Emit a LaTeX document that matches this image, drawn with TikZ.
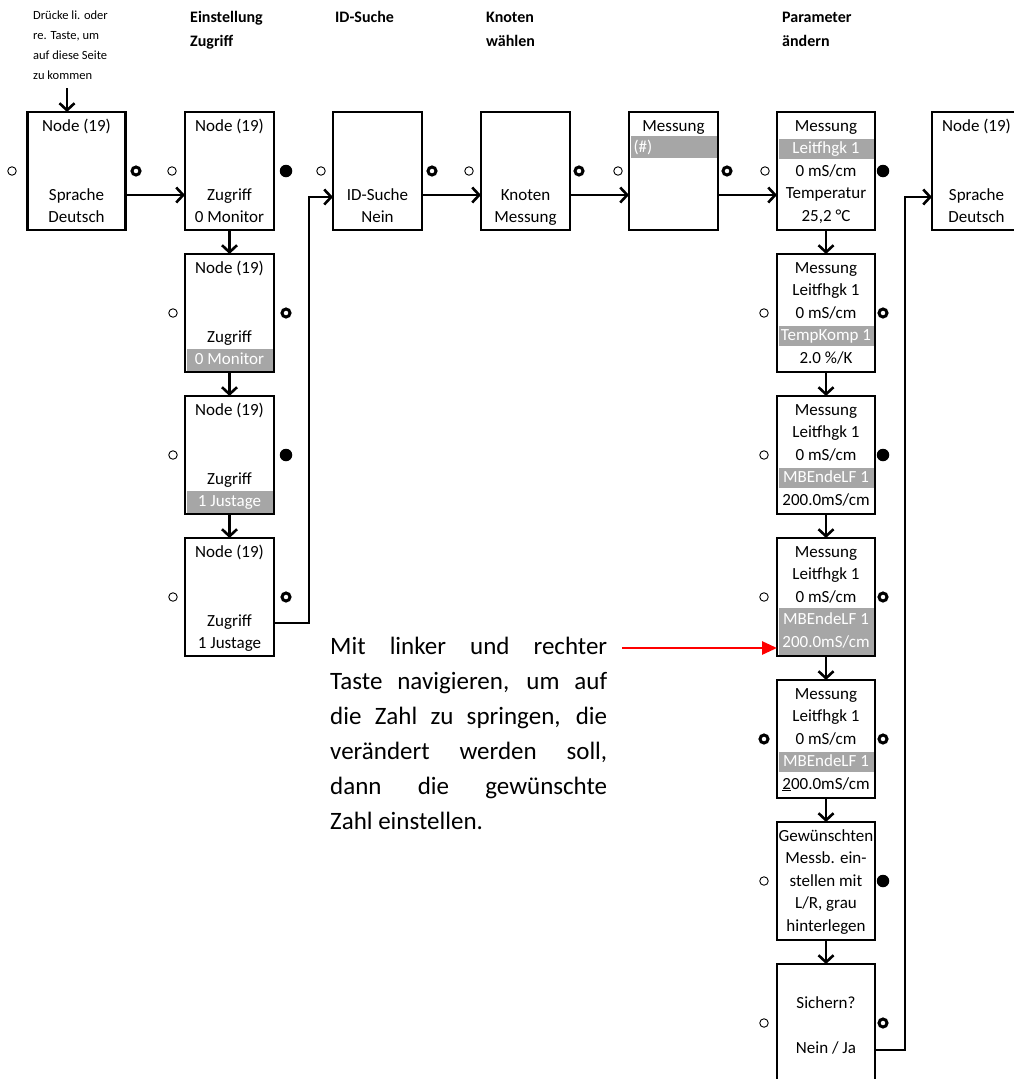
\documentclass[tikz,border=0pt]{standalone}
\usepackage{fontspec}
\setmainfont{Carlito}
\usetikzlibrary{arrows.meta}

\definecolor{bargray}{RGB}{166,166,166}
\newcommand{\jline}[1]{\makebox[277pt][s]{#1}}

\tikzset{
  box/.style={draw, line width=2.7pt, minimum width=89pt, minimum height=118pt, inner sep=0pt, outer sep=0pt},
  wide/.style={box, minimum width=98pt},
  ln/.style={font=\fontsize{17}{22.5}\selectfont, text height=12pt, text depth=2pt, inner sep=0pt},
  bar/.style={ln, fill=bargray, text=white, minimum width=#1, minimum height=20pt},
  bar/.default=95pt,
  head/.style={font=\bfseries\fontsize{16}{24}\selectfont, align=left, inner sep=0pt, anchor=base west},
  arr/.style={line width=2.6pt, -{Straight Barb[length=7pt,width=15pt,line width=2.6pt]}},
  redarr/.style={draw=red, line width=2.8pt, -{Triangle[length=15pt,width=13pt]}},
  free/.style={circle, draw, line width=0.9pt, minimum size=8.5pt, inner sep=0pt},
  ring/.style={circle, draw, line width=3pt, minimum size=8pt, inner sep=0pt},
  dot/.style={circle, fill, minimum size=12.5pt, inner sep=0pt}
}

\begin{document}
\begin{tikzpicture}[x=1pt,y=-1pt]
  \useasboundingbox (0,0) rectangle (1013,1079);

  % headings (placed at the baseline of their last line)
  \node[head, font=\fontsize{12.5}{20}\selectfont] (note) at (33,79) {Drücke li. oder\\re. Taste, um\\auf diese Seite\\zu kommen};
  \node[head] (h1) at (190,46.5) {Einstellung\\Zugriff};
  \node[head] (h2) at (335,22.5) {ID-Suche};
  \node[head] (h3) at (486,46.5) {Knoten\\wählen};
  \node[head] (h4) at (782,46.5) {Parameter\\ändern};

  % top row
  \node[wide] (b1) at (76.5,171) {};
  \node[box]  (b2) at (229.5,171) {};
  \node[box]  (b3) at (377.5,171) {};
  \node[box]  (b4) at (525.5,171) {};
  \node[box]  (b5) at (673.5,171) {};
  \node[wide] (b6) at (826,171) {};
  \node[box]  (b7) at (976.5,171) {};

  \node[ln] (b1a) at (76.5,126) {Node (19)};
  \node[ln] (b1b) at (76.5,195) {Sprache};
  \node[ln] (b1c) at (76.5,217) {Deutsch};
  \node[ln] (b2a) at (229.5,126) {Node (19)};
  \node[ln] (b2b) at (229.5,195) {Zugriff};
  \node[ln] (b2c) at (229.5,217) {0 Monitor};
  \node[ln] (b3a) at (377.5,195) {ID-Suche};
  \node[ln] (b3b) at (377.5,217) {Nein};
  \node[ln] (b4a) at (525.5,195) {Knoten};
  \node[ln] (b4b) at (525.5,217) {Messung};
  \node[ln] (b5a) at (673.5,126) {Messung};
  \node[bar=86pt, minimum height=22pt, text width=80pt, align=left] (b5b) at (673.5,147) {(\#)};
  \node[ln] (b6a) at (826,126) {Messung};
  \node[bar] (b6b) at (826,148.5) {Leitfhgk 1};
  \node[ln] (b6c) at (826,171) {0 mS/cm};
  \node[ln] (b6d) at (826,193.5) {Temperatur};
  \node[ln] (b6e) at (826,216) {25,2 °C};
  \node[ln] (b7a) at (976.5,126) {Node (19)};
  \node[ln] (b7b) at (976.5,195) {Sprache};
  \node[ln] (b7c) at (976.5,217) {Deutsch};

  % Zugriff column
  \node[box] (z1) at (229.5,313) {};
  \node[box] (z2) at (229.5,455) {};
  \node[box] (z3) at (229.5,597) {};

  \node[ln] (z1a) at (229.5,268) {Node (19)};
  \node[ln] (z1b) at (229.5,337) {Zugriff};
  \node[bar=86pt, minimum height=22pt] (z1c) at (229.5,359.5) {0 Monitor};
  \node[ln] (z2a) at (229.5,410) {Node (19)};
  \node[ln] (z2b) at (229.5,479) {Zugriff};
  \node[bar=86pt, minimum height=22pt] (z2c) at (229.5,501.5) {1 Justage};
  \node[ln] (z3a) at (229.5,552) {Node (19)};
  \node[ln] (z3b) at (229.5,621) {Zugriff};
  \node[ln] (z3c) at (229.5,643) {1 Justage};

  % Messung column
  \node[wide] (m1) at (826,313) {};
  \node[wide] (m2) at (826,455) {};
  \node[wide] (m3) at (826,597) {};
  \node[wide] (m4) at (826,739) {};
  \node[wide] (m5) at (826,881) {};
  \node[wide] (m6) at (826,1023) {};

  \node[ln] (m1a) at (826,268) {Messung};
  \node[ln] (m1b) at (826,290.5) {Leitfhgk 1};
  \node[ln] (m1c) at (826,313) {0 mS/cm};
  \node[bar] (m1d) at (826,335.5) {TempKomp 1};
  \node[ln] (m1e) at (826,358) {2.0 \%/K};
  \node[ln] (m2a) at (826,410) {Messung};
  \node[ln] (m2b) at (826,432.5) {Leitfhgk 1};
  \node[ln] (m2c) at (826,455) {0 mS/cm};
  \node[bar] (m2d) at (826,477.5) {MBEndeLF 1};
  \node[ln] (m2e) at (826,500) {200.0mS/cm};
  \node[ln] (m3a) at (826,552) {Messung};
  \node[ln] (m3b) at (826,574.5) {Leitfhgk 1};
  \node[ln] (m3c) at (826,597) {0 mS/cm};
  \node[bar, minimum height=23pt] (m3d) at (826,619.5) {MBEndeLF 1};
  \node[bar, minimum height=24pt] (m3e) at (826,642.5) {200.0mS/cm};
  \node[ln] (m4a) at (826,694) {Messung};
  \node[ln] (m4b) at (826,716.5) {Leitfhgk 1};
  \node[ln] (m4c) at (826,739) {0 mS/cm};
  \node[bar] (m4d) at (826,761.5) {MBEndeLF 1};
  \node[ln] (m4e) at (826,784) {\underline{2}00.0mS/cm};
  \node[ln] (m5a) at (826,836) {Gewünschten};
  \node[ln] (m5b) at (826,858.5) {Messb. ein-};
  \node[ln] (m5c) at (826,881) {stellen mit};
  \node[ln] (m5d) at (826,903.5) {L/R, grau};
  \node[ln] (m5e) at (826,926) {hinterlegen};
  \node[ln] (m6a) at (826,1003) {Sichern?};
  \node[ln] (m6b) at (826,1048) {Nein / Ja};

  % knobs
  \foreach \x/\y [count=\i] in {12/171, 172/171, 321/171, 469/171, 618/171, 765/171,
      173/313, 173/455, 173/597, 764/313, 764/455, 764/597, 764/881, 764/1023}
    \node[free] (f\i) at (\x,\y) {};
  \foreach \x/\y [count=\i] in {136/171, 432/171, 579/171, 727/171, 286/313, 286/597,
      883/313, 883/597, 764/739, 883/739, 883/1023}
    \node[ring] (r\i) at (\x,\y) {};
  \foreach \x/\y [count=\i] in {286/171, 286/455, 883/171, 883/455, 883/881}
    \node[dot] (d\i) at (\x,\y) {};

  % connectors
  \coordinate (n0) at (67,88);
  \draw[arr] (n0) -- (n0 |- b1.north);
  \draw[arr] ([yshift=-24pt]b1.east) -- ([yshift=-24pt]b2.west);
  \draw[arr] ([yshift=-24pt]b3.east) -- ([yshift=-24pt]b4.west);
  \draw[arr] ([yshift=-24pt]b4.east) -- ([yshift=-24pt]b5.west);
  \draw[arr] ([yshift=-24pt]b5.east) -- ([yshift=-24pt]b6.west);
  \draw[arr] (b2) -- (z1);
  \draw[arr] (z1) -- (z2);
  \draw[arr] (z2) -- (z3);
  \draw[arr] ([yshift=-26pt]z3.east) -- ++(35,0) |- ([yshift=-26pt]b3.west);
  \draw[arr] (b6) -- (m1);
  \draw[arr] (m1) -- (m2);
  \draw[arr] (m2) -- (m3);
  \draw[arr] (m3) -- (m4);
  \draw[arr] (m4) -- (m5);
  \draw[arr] (m5) -- (m6);
  \draw[arr] ([yshift=-27pt]m6.east) -- ++(30,0) |- ([yshift=-26pt]b7.west);

  % hint (placed at the baseline of its last line)
  \node[inner sep=0pt, anchor=base west, align=left, font=\fontsize{25}{35}\selectfont] (hint) at (330,829)
    {\jline{Mit linker und rechter}\\\jline{Taste navigieren, um auf}\\\jline{die Zahl zu springen, die}\\
     \jline{verändert werden soll,}\\\jline{dann die gewünschte}\\Zahl einstellen.};
  \coordinate (rs) at (622,648);
  \draw[redarr] (rs) -- ([yshift=-51pt]m3.west);

\end{tikzpicture}
\end{document}
